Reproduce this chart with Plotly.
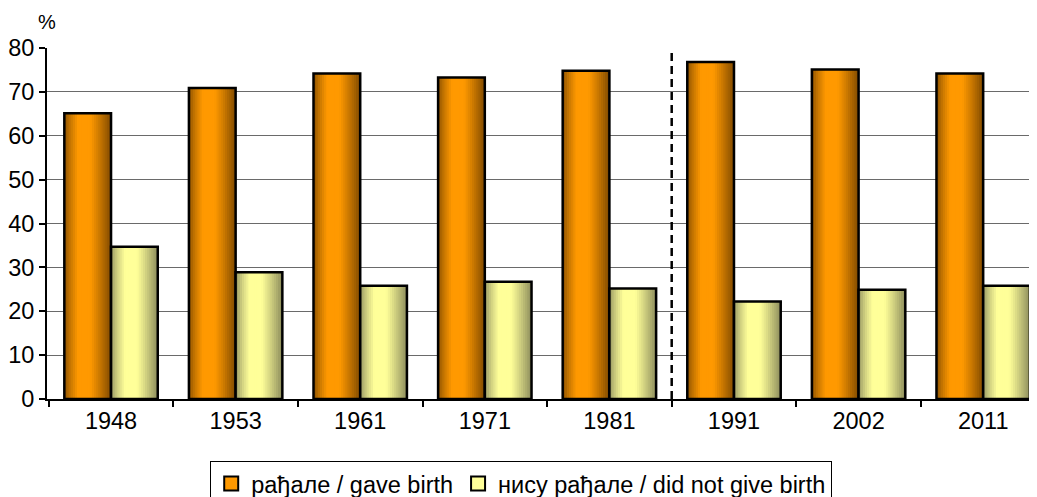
import plotly.graph_objects as go

# ---- data ----
years = ["1948", "1953", "1961", "1971", "1981", "1991", "2002", "2011"]
gave_birth = [65.1, 70.9, 74.2, 73.3, 74.8, 76.8, 75.1, 74.2]
not_gave_birth = [34.7, 28.9, 25.8, 26.7, 25.2, 22.2, 24.9, 25.8]
series_names = ["рађале / gave birth", "нису рађале / did not give birth"]
y_ticks = [0, 10, 20, 30, 40, 50, 60, 70, 80]

FONT = "Liberation Sans, Arial, sans-serif"
FS = 23.5
BAR_W = 0.375
N_STRIPS = 22


def lerp(c1, c2, f):
    return tuple(int(round(a + (b - a) * f)) for a, b in zip(c1, c2))


def profile(t):
    # light band left-of-centre, dark edges (cylinder-like shading)
    if t < 0.3:
        return (t / 0.3) ** 0.7
    if t < 0.55:
        return 1.0
    return max(0.0, 1 - ((t - 0.55) / 0.45) ** 1.1)


styles = [
    {"dark": (128, 74, 0), "bright": (255, 153, 0), "solid": "#FF9900", "off": -BAR_W},
    {"dark": (140, 140, 92), "bright": (255, 255, 153), "solid": "#FFFF99", "off": 0.0},
]

fig = go.Figure()

for vals, st in zip([gave_birth, not_gave_birth], styles):
    fig.add_trace(go.Bar(
        x=years, y=vals, width=BAR_W, offset=st["off"],
        marker=dict(color=st["solid"], line=dict(color="black", width=0)),
        showlegend=False, hoverinfo="skip"))
    dw = BAR_W / N_STRIPS
    for k in range(N_STRIPS):
        t = (k + 0.5) / N_STRIPS
        c = lerp(st["dark"], st["bright"], profile(t))
        fig.add_trace(go.Bar(
            x=years, y=vals, width=BAR_W - k * dw, offset=st["off"] + k * dw,
            marker=dict(color="rgb(%d,%d,%d)" % c, line=dict(width=0)),
            showlegend=False, hoverinfo="skip"))
    fig.add_trace(go.Bar(
        x=years, y=vals, width=BAR_W, offset=st["off"],
        marker=dict(color="rgba(0,0,0,0)", line=dict(color="black", width=2.5)),
        showlegend=False, hoverinfo="skip"))

for name, st in zip(series_names, styles):
    fig.add_trace(go.Scatter(
        x=[None], y=[None], mode="markers", name=name,
        marker=dict(symbol="square", size=14, color=st["solid"],
                    line=dict(color="black", width=2))))

fig.add_shape(type="line", xref="x", yref="y", x0=4.5, x1=4.5, y0=0, y1=80,
              line=dict(color="black", width=2.5, dash="8px,5px"))

fig.add_annotation(text="%", xref="paper", yref="paper", x=0, y=1.074,
                   xanchor="center", yanchor="middle", showarrow=False,
                   font=dict(size=20, color="black", family=FONT))

# the page adds an 8px body margin, so the figure is sized to end at the window edge
fig.update_layout(
    width=1029, height=489,
    margin=dict(l=39, r=0, t=40, b=98, autoexpand=False),
    paper_bgcolor="white", plot_bgcolor="white",
    barmode="overlay",
    font=dict(family=FONT, size=FS, color="black"),
    legend=dict(orientation="h", x=0.479, xanchor="center", y=-0.176, yanchor="top",
                bordercolor="black", borderwidth=1, bgcolor="white",
                font=dict(size=FS, family=FONT), itemwidth=30),
    xaxis=dict(type="category", range=[-0.514, 7.432], automargin=False,
               showline=True, linecolor="black", linewidth=2,
               ticks="outside", tickson="boundaries", ticklen=6, tickwidth=2,
               tickcolor="black", showgrid=False,
               tickfont=dict(size=FS, family=FONT)),
    yaxis=dict(range=[0, 80], tickvals=y_ticks, automargin=False,
               showline=True, linecolor="black", linewidth=2,
               ticks="outside", ticklen=6, tickwidth=2, tickcolor="black",
               showgrid=True, gridcolor="#6a6a6a", gridwidth=1,
               zeroline=False,
               tickfont=dict(size=FS, family=FONT)),
)

fig.write_html("out.html")
